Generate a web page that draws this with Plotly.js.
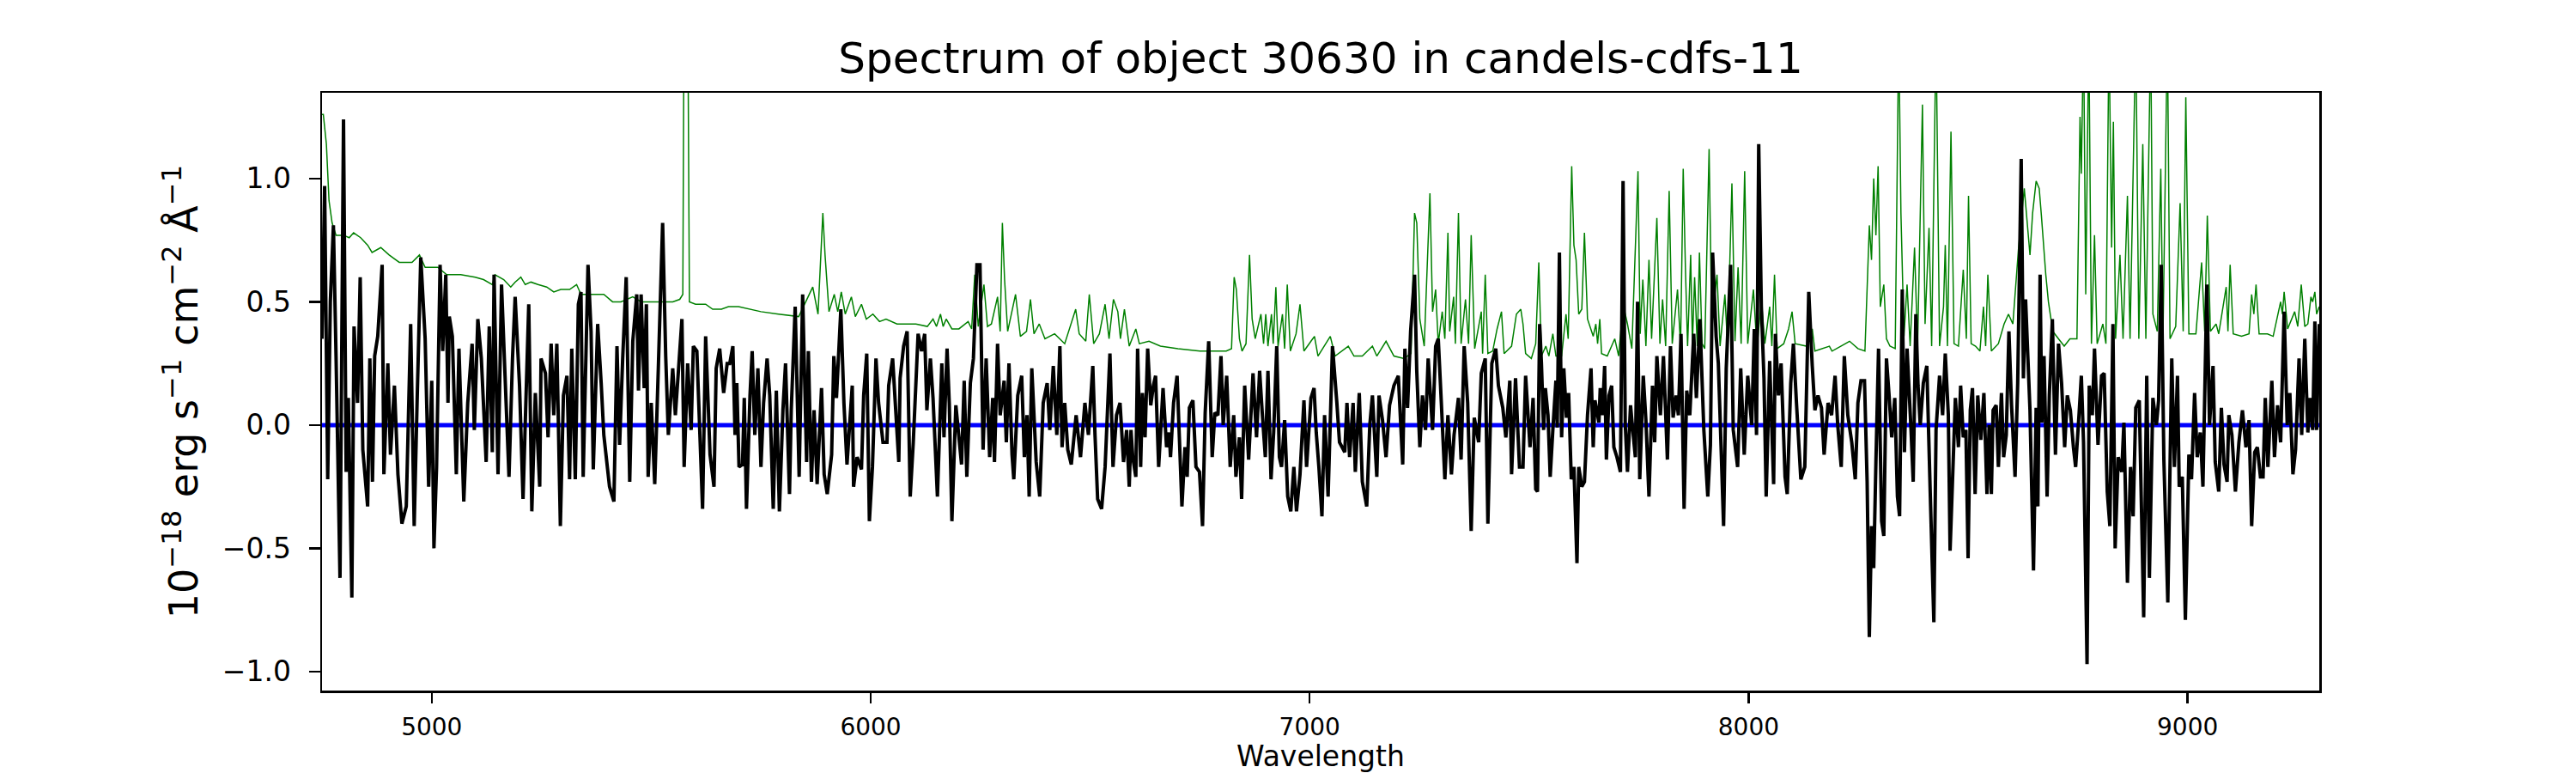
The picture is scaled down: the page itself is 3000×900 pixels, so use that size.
<!DOCTYPE html>
<html>
<head>
<meta charset="utf-8">
<script src="https://cdn.plot.ly/plotly-3.0.1.min.js"></script>
<style>
  html, body { margin: 0; padding: 0; background: #fff; }
  #chart { width: 3000px; height: 900px; }
</style>
</head>
<body>
<div id="chart"></div>
<script>
const fluxWave = [
  4750,4756,4763,4769,4776,4782,4791,4799,4805,4810,
  4818,4823,4831,4837,4843,4854,4859,4865,4870,4877,
  4887,4891,4900,4906,4915,4923,4932,4942,4952,4960,
  4967,4975,4985,4993,5000,5005,5011,5019,5025,5032,
  5037,5040,5047,5056,5062,5073,5082,5092,5097,5105,
  5113,5124,5131,5138,5142,5151,5159,5167,5176,5184,
  5190,5200,5208,5221,5228,5236,5246,5249,5259,5265,
  5272,5278,5285,5293,5300,5308,5314,5319,5327,5334,
  5340,5345,5356,5363,5368,5378,5386,5392,5405,5415,
  5422,5428,5435,5443,5451,5458,5467,5471,5477,5484,
  5489,5493,5500,5508,5516,5526,5533,5539,5549,5555,
  5562,5570,5575,5583,5591,5596,5604,5617,5624,5634,
  5643,5648,5656,5665,5673,5679,5686,5691,5695,5700,
  5708,5712,5717,5725,5730,5736,5743,5750,5756,5764,
  5770,5778,5785,5792,5800,5806,5815,5819,5828,5837,
  5845,5854,5858,5865,5871,5878,5888,5894,5901,5911,
  5916,5922,5932,5939,5946,5958,5961,5969,5979,5984,
  5991,5997,6004,6012,6018,6028,6037,6041,6050,6057,
  6064,6067,6075,6083,6090,6097,6108,6116,6123,6128,
  6136,6142,6152,6162,6167,6174,6179,6185,6194,6207,
  6213,6219,6227,6234,6242,6249,6256,6263,6271,6278,
  6282,6289,6295,6304,6309,6315,6322,6326,6335,6344,
  6350,6356,6361,6367,6377,6385,6393,6402,6408,6416,
  6424,6431,6436,6442,6449,6457,6468,6478,6488,6496,
  6506,6511,6517,6526,6534,6545,6552,6560,6568,6576,
  6583,6589,6593,6597,6604,6608,6615,6619,6625,6631,
  6638,6644,6649,6656,6666,6674,6680,6683,6690,6698,
  6709,6716,6721,6726,6734,6741,6749,6756,6762,6770,
  6778,6784,6791,6798,6803,6811,6819,6827,6832,6840,
  6845,6852,6861,6871,6879,6886,6892,6899,6905,6912,
  6918,6925,6931,6936,6943,6950,6957,6964,6970,6978,
  6987,6993,7003,7010,7015,7021,7028,7034,7042,7052,
  7062,7068,7080,7085,7091,7099,7104,7113,7120,7130,
  7137,7143,7153,7158,7166,7174,7182,7192,7202,7212,
  7217,7223,7230,7239,7244,7251,7257,7264,7270,7280,
  7287,7293,7300,7308,7315,7323,7329,7339,7345,7352,
  7360,7368,7375,7385,7391,7400,7406,7415,7424,7430,
  7440,7447,7456,7460,7469,7478,7486,7492,7502,7509,
  7515,7519,7524,7528,7533,7537,7543,7548,7554,7561,
  7564,7569,7574,7579,7585,7590,7596,7602,7609,7613,
  7620,7626,7633,7641,7646,7650,7659,7662,7667,7672,
  7676,7682,7688,7693,7700,7708,7714,7719,7724,7731,
  7735,7742,7747,7752,7760,7766,7773,7781,7786,7791,
  7799,7806,7815,7822,7828,7835,7840,7846,7853,7859,
  7866,7875,7881,7889,7898,7907,7913,7918,7926,7931,
  7936,7943,7949,7959,7965,7975,7982,7990,7998,8007,
  8013,8018,8023,8029,8035,8040,8048,8057,8061,8068,
  8074,8083,8088,8096,8102,8109,8119,8128,8137,8145,
  8151,8158,8166,8172,8181,8189,8197,8203,8211,8218,
  8226,8235,8243,8249,8256,8264,8270,8275,8280,8285,
  8290,8296,8303,8308,8314,8320,8326,8333,8339,8344,
  8350,8355,8361,8370,8375,8381,8386,8391,8398,8406,
  8414,8422,8427,8435,8442,8448,8455,8459,8466,8471,
  8478,8483,8489,8495,8500,8505,8510,8516,8522,8529,
  8536,8543,8548,8553,8557,8564,8569,8576,8581,8587,
  8593,8599,8607,8613,8621,8626,8631,8641,8649,8655,
  8659,8664,8668,8673,8680,8685,8692,8699,8706,8713,
  8720,8726,8733,8740,8745,8753,8758,8763,8771,8776,
  8783,8788,8796,8804,8810,8817,8823,8830,8835,8842,
  8850,8855,8863,8870,8876,8882,8890,8900,8907,8913,
  8921,8929,8934,8940,8946,8955,8964,8970,8977,8981,
  8988,8995,9003,9009,9016,9022,9029,9035,9044,9050,
  9058,9063,9071,9077,9083,9090,9094,9101,9109,9117,
  9125,9133,9140,9146,9153,9159,9166,9172,9177,9183,
  9192,9198,9205,9212,9220,9227,9233,9240,9246,9254,
  9260,9267,9274,9279,9285,9290,9294,9300
];
const fluxValue = [
  0.35,0.97,-0.22,0.50,0.81,0.28,-0.62,1.24,-0.19,0.11,
  -0.70,0.40,0.09,0.60,-0.10,-0.33,0.27,-0.23,0.28,0.36,
  0.65,-0.20,0.25,-0.12,0.16,-0.20,-0.40,-0.33,0.41,-0.41,
  0.12,0.68,0.35,-0.25,0.18,-0.50,-0.17,0.65,0.30,0.61,
  0.09,0.44,0.36,-0.20,0.31,-0.31,0.09,0.33,-0.02,0.43,
  0.27,-0.15,0.40,-0.11,0.61,-0.20,0.57,0.20,-0.21,0.27,
  0.52,0.16,-0.30,0.49,-0.35,0.13,-0.25,0.27,0.21,-0.05,
  0.33,0.04,0.33,-0.41,0.12,0.20,-0.22,0.31,-0.22,0.49,
  0.54,-0.21,0.65,0.38,-0.18,0.41,0.17,-0.04,-0.25,-0.31,
  0.32,-0.08,0.27,0.60,-0.23,0.34,0.53,0.14,0.53,0.15,
  0.49,-0.21,0.09,-0.24,0.22,0.82,0.28,-0.04,0.23,0.04,
  0.22,0.43,-0.17,0.25,-0.02,0.32,0.30,-0.34,0.36,-0.12,
  -0.25,0.23,0.31,0.13,0.25,0.25,0.32,-0.04,0.17,-0.17,
  -0.16,0.11,-0.34,0.12,0.30,-0.04,0.23,-0.17,0.09,0.27,
  0.12,-0.34,0.14,-0.35,0.06,0.25,-0.28,0.06,0.48,-0.21,
  0.53,-0.15,0.30,-0.23,0.06,-0.24,0.15,-0.20,-0.28,-0.12,
  0.28,0.11,0.47,0.09,-0.16,0.16,-0.25,-0.13,-0.18,0.12,
  0.29,-0.39,-0.17,0.27,0.09,-0.07,-0.07,0.16,0.27,0.06,
  -0.15,0.19,0.32,0.38,-0.29,-0.07,0.37,0.30,0.37,0.06,
  0.27,0.11,-0.29,0.25,-0.05,0.31,0.09,-0.39,0.08,-0.16,
  0.18,-0.21,0.17,0.27,0.65,0.65,-0.10,0.27,-0.13,0.11,
  -0.15,0.33,0.04,0.18,-0.07,0.25,-0.12,-0.22,0.12,0.20,
  -0.13,0.04,-0.29,0.23,-0.15,-0.29,0.09,0.17,-0.02,0.24,
  -0.04,0.32,-0.09,0.09,-0.10,-0.16,0.04,-0.13,0.09,-0.04,
  0.24,-0.04,-0.30,-0.34,-0.17,0.29,-0.17,0.04,0.09,-0.15,
  -0.02,-0.25,-0.02,-0.13,-0.21,0.31,-0.17,0.13,-0.05,0.31,
  0.08,0.16,0.20,-0.17,0.15,-0.09,-0.03,-0.13,0.09,0.20,
  -0.33,-0.09,-0.21,0.07,0.10,-0.17,-0.19,-0.41,0.05,0.34,
  -0.13,0.05,0.04,0.28,0.00,0.20,-0.17,0.04,-0.21,-0.05,
  -0.30,0.16,-0.14,0.21,-0.05,0.22,0.05,-0.13,0.22,-0.22,
  -0.03,0.32,-0.13,-0.17,0.02,-0.29,-0.35,-0.17,-0.35,-0.20,
  0.10,-0.17,0.11,0.15,-0.03,-0.17,-0.37,0.04,-0.29,0.32,
  0.09,-0.07,-0.11,0.09,-0.13,0.09,-0.19,0.13,-0.23,-0.33,
  0.00,0.12,-0.21,0.12,0.02,-0.13,0.08,0.16,0.20,-0.16,
  0.31,0.07,0.38,0.61,0.22,-0.09,0.12,-0.02,0.27,-0.02,
  0.32,0.35,0.09,-0.22,0.04,-0.20,-0.04,0.11,-0.14,0.32,
  0.09,-0.43,0.03,-0.07,0.21,0.27,-0.40,0.25,0.31,0.16,
  0.07,-0.05,0.18,-0.20,0.19,-0.17,-0.17,0.20,-0.09,0.11,
  -0.26,-0.27,0.41,0.25,-0.02,0.15,0.04,-0.21,-0.02,0.18,
  -0.01,0.70,-0.05,0.23,0.03,0.13,-0.22,-0.17,-0.56,-0.17,
  -0.25,-0.23,0.04,0.23,-0.09,0.10,0.01,0.15,0.04,0.24,
  -0.14,0.12,0.16,-0.09,-0.13,-0.19,0.99,0.00,-0.19,0.08,
  0.00,-0.13,0.50,-0.22,0.20,0.02,-0.29,0.16,-0.07,0.28,
  0.04,0.28,-0.14,0.32,0.03,0.12,0.04,0.37,-0.34,0.14,
  0.04,0.37,0.11,0.43,-0.02,-0.29,-0.08,0.70,0.36,0.25,
  -0.02,-0.41,0.23,0.65,-0.02,-0.17,0.23,-0.12,0.20,0.00,
  0.39,-0.04,1.14,0.48,0.19,-0.29,0.26,-0.24,0.37,0.12,
  0.25,-0.21,-0.28,0.17,0.33,0.09,-0.22,-0.17,0.54,0.24,
  0.06,0.12,0.07,-0.12,0.09,0.04,0.20,0.00,-0.17,0.28,
  0.04,-0.07,-0.22,0.09,0.18,0.18,-0.23,-0.86,-0.41,-0.58,
  -0.15,0.31,-0.39,-0.45,0.27,0.12,-0.05,0.11,-0.29,-0.37,
  0.55,-0.11,0.31,-0.02,-0.23,0.45,0.16,0.00,0.17,0.24,
  -0.29,-0.80,-0.02,0.20,0.04,0.29,0.04,-0.51,-0.15,0.11,
  -0.09,0.16,-0.05,-0.02,-0.54,0.06,0.15,-0.28,0.12,-0.06,
  0.13,-0.28,0.00,-0.28,0.06,0.08,-0.17,0.13,-0.13,-0.04,
  0.38,0.08,-0.21,0.17,1.08,0.19,0.51,0.06,-0.59,0.07,
  -0.33,0.61,0.01,0.28,-0.29,0.12,0.43,-0.12,0.33,0.17,
  -0.09,0.12,0.06,-0.09,-0.17,0.05,0.20,-0.07,-0.97,0.16,
  0.04,0.31,-0.08,0.20,0.21,-0.27,-0.41,0.41,-0.50,-0.13,
  -0.19,0.01,-0.64,-0.17,-0.37,0.07,0.10,-0.78,0.20,-0.62,
  0.11,0.00,0.10,0.65,-0.14,-0.72,0.27,-0.17,0.20,-0.25,
  -0.21,-0.79,-0.12,-0.22,0.13,-0.13,-0.03,-0.25,0.57,0.00,
  0.24,-0.15,-0.27,0.07,-0.16,-0.23,0.04,-0.04,-0.27,-0.07,
  0.06,-0.09,0.02,-0.41,-0.11,-0.09,-0.21,-0.21,0.11,-0.17,
  0.18,-0.13,0.08,-0.07,0.46,0.00,0.13,-0.20,-0.10,0.27,
  -0.04,0.35,-0.03,0.11,-0.02,0.42,-0.02,0.41
];

// noise / sky spectrum (green)
const noiseWave = [
  4750,4753,4760,4766,4773,4782,4799,4812,4822,4838,
  4854,4864,4884,4903,4926,4955,4972,4985,5014,5034,
  5066,5099,5118,5138,5144,5164,5180,5190,5203,5213,
  5226,5242,5262,5278,5294,5314,5330,5340,5366,5392,
  5412,5431,5458,5477,5503,5523,5549,5565,5572,5575,
  5583,5587,5601,5624,5640,5660,5676,5699,5750,5790,
  5836,5868,5880,5891,5896,5905,5917,5925,5933,5942,
  5956,5965,5979,5990,6005,6020,6035,6060,6103,6129,
  6142,6150,6159,6165,6172,6185,6201,6222,6230,6237,
  6245,6258,6266,6275,6289,6295,6300,6305,6312,6330,
  6341,6355,6364,6372,6384,6397,6419,6442,6467,6475,
  6490,6498,6508,6521,6534,6543,6553,6563,6569,6578,
  6589,6604,6612,6634,6660,6700,6750,6810,6822,6828,
  6833,6840,6846,6855,6863,6869,6876,6889,6895,6900,
  6905,6913,6917,6923,6928,6938,6943,6949,6956,6969,
  6978,6987,7003,7011,7019,7047,7058,7088,7101,7120,
  7143,7153,7174,7192,7215,7231,7239,7244,7251,7261,
  7274,7280,7287,7293,7302,7308,7315,7319,7328,7332,
  7339,7345,7355,7362,7368,7376,7391,7394,7400,7406,
  7417,7427,7437,7443,7460,7471,7481,7486,7492,7505,
  7515,7522,7528,7538,7545,7554,7561,7574,7584,7589,
  7597,7602,7607,7613,7620,7626,7633,7646,7652,7656,
  7661,7665,7678,7695,7704,7714,7724,7734,7748,7753,
  7759,7766,7773,7779,7791,7798,7804,7811,7819,7826,
  7838,7845,7851,7856,7861,7868,7872,7877,7883,7888,
  7894,7900,7910,7916,7928,7935,7946,7952,7962,7969,
  7976,7983,7991,7998,8011,8019,8029,8037,8048,8053,
  8059,8065,8080,8091,8099,8106,8132,8145,8151,8184,
  8190,8210,8230,8249,8265,8275,8280,8285,8290,8295,
  8300,8308,8314,8322,8334,8342,8347,8354,8361,8368,
  8378,8385,8396,8402,8411,8417,8427,8435,8444,8448,
  8453,8461,8468,8478,8489,8496,8501,8507,8517,8527,
  8535,8540,8545,8553,8569,8582,8592,8602,8615,8628,
  8641,8647,8655,8662,8667,8677,8683,8693,8706,8719,
  8732,8748,8755,8758,8763,8768,8775,8781,8788,8794,
  8807,8814,8821,8827,8831,8836,8846,8853,8863,8869,
  8882,8889,8898,8905,8916,8921,8931,8939,8944,8954,
  8960,8973,8983,8990,8996,9003,9019,9032,9039,9045,
  9052,9065,9071,9088,9092,9097,9104,9123,9140,9146,
  9151,9156,9163,9182,9195,9212,9216,9220,9228,9244,
  9251,9259,9267,9274,9281,9285,9290,9294,9300
];
const noiseValue = [
  1.26,1.26,1.14,0.91,0.82,0.77,0.77,0.76,0.78,0.76,
  0.73,0.70,0.72,0.69,0.66,0.66,0.69,0.64,0.64,0.61,
  0.61,0.60,0.59,0.57,0.61,0.59,0.56,0.58,0.60,0.57,
  0.58,0.57,0.56,0.54,0.55,0.55,0.57,0.53,0.53,0.53,
  0.50,0.50,0.52,0.50,0.50,0.50,0.50,0.51,0.53,1.80,
  1.80,0.50,0.49,0.49,0.47,0.47,0.48,0.48,0.46,0.45,
  0.44,0.56,0.45,0.86,0.69,0.46,0.53,0.46,0.54,0.45,
  0.52,0.44,0.49,0.43,0.45,0.42,0.43,0.41,0.41,0.40,
  0.43,0.40,0.45,0.40,0.43,0.39,0.39,0.42,0.39,0.61,
  0.40,0.57,0.40,0.41,0.52,0.38,0.82,0.59,0.38,0.53,
  0.36,0.38,0.51,0.37,0.41,0.35,0.37,0.33,0.47,0.37,
  0.34,0.53,0.33,0.37,0.49,0.35,0.51,0.46,0.35,0.47,
  0.32,0.39,0.33,0.34,0.32,0.31,0.30,0.30,0.31,0.60,
  0.55,0.35,0.30,0.33,0.69,0.43,0.35,0.45,0.33,0.45,
  0.32,0.45,0.33,0.56,0.32,0.45,0.31,0.57,0.30,0.37,
  0.49,0.30,0.34,0.36,0.28,0.36,0.28,0.32,0.28,0.28,
  0.32,0.28,0.34,0.28,0.27,0.29,0.86,0.82,0.43,0.32,
  0.94,0.46,0.55,0.33,0.46,0.35,0.78,0.38,0.52,0.33,
  0.86,0.33,0.51,0.33,0.77,0.31,0.46,0.29,0.61,0.29,
  0.30,0.39,0.46,0.29,0.32,0.45,0.47,0.41,0.29,0.27,
  0.33,0.66,0.28,0.32,0.28,0.37,0.28,0.28,0.45,0.35,
  1.05,0.73,0.67,0.45,0.47,0.78,0.43,0.36,0.41,0.33,
  0.43,0.29,0.28,0.35,0.28,0.49,0.41,0.31,1.03,0.37,
  0.59,0.32,0.67,0.35,0.84,0.33,0.51,0.32,0.95,0.33,
  0.55,0.32,1.04,0.64,0.32,0.69,0.33,0.60,0.32,0.70,
  0.33,0.31,1.12,0.41,0.61,0.32,0.53,0.32,0.98,0.34,
  0.64,0.33,1.03,0.33,0.55,0.31,0.51,0.33,0.48,0.32,
  0.61,0.31,0.33,0.39,0.46,0.33,0.32,0.39,0.30,0.32,
  0.30,0.32,0.34,0.31,0.30,0.81,0.67,1.00,0.77,1.05,
  0.48,0.57,0.35,0.32,0.31,1.60,0.86,0.36,0.57,0.32,
  0.72,0.32,1.30,0.41,0.80,0.32,1.60,0.32,0.48,0.73,
  0.32,1.19,0.33,0.32,0.63,0.35,0.93,0.33,0.32,0.30,
  0.48,0.32,0.61,0.30,0.33,0.41,0.45,0.41,0.72,0.96,
  0.69,0.86,0.99,0.96,0.85,0.61,0.50,0.38,0.35,0.32,
  0.35,0.35,1.25,1.02,1.60,0.53,1.60,0.33,0.77,0.33,
  0.41,0.33,1.60,0.72,1.23,0.35,0.69,0.35,0.93,0.35,
  1.60,0.35,1.14,0.35,1.60,0.45,0.38,1.04,0.36,1.60,
  0.35,0.40,0.90,0.38,1.33,0.37,0.37,0.66,0.38,0.85,
  0.38,0.41,0.37,0.56,0.38,0.65,0.37,0.36,0.37,0.53,
  0.45,0.57,0.37,0.37,0.36,0.50,0.45,0.54,0.39,0.46,
  0.40,0.57,0.40,0.41,0.52,0.50,0.54,0.45,0.48
];

// model / contamination (blue), flat at zero
const modelWave = [4750, 9300];
const modelValue = [0, 0];

const xTicks = [5000, 6000, 7000, 8000, 9000];
const yTicks = [-1.0, -0.5, 0.0, 0.5, 1.0];

const font = "DejaVu Sans";

Plotly.newPlot("chart", [
  {
    x: modelWave, y: modelValue, type: "scatter", mode: "lines",
    line: { color: "#0000ff", width: 5 }, hoverinfo: "skip"
  },
  {
    x: noiseWave, y: noiseValue, type: "scatter", mode: "lines",
    line: { color: "#008000", width: 1.5, simplify: false }
  },
  {
    x: fluxWave, y: fluxValue, type: "scatter", mode: "lines",
    line: { color: "#000000", width: 4, simplify: false }
  }
], {
  width: 3000,
  height: 900,
  showlegend: false,
  paper_bgcolor: "#ffffff",
  plot_bgcolor: "#ffffff",
  margin: { l: 375, r: 299, t: 108, b: 96 },
  font: { family: font, color: "#000000" },
  title: {
    text: "Spectrum of object 30630 in candels-cdfs-11",
    font: { family: font, size: 50, color: "#000000" },
    x: 0.5, xref: "paper", xanchor: "center",
    y: 0.925, yref: "container", yanchor: "middle"
  },
  xaxis: {
    range: [4750, 9300],
    tickvals: xTicks,
    ticktext: xTicks.map(String),
    ticks: "outside", ticklen: 12, tickwidth: 2.5, tickcolor: "#000",
    tickfont: { family: font, size: 28, color: "#000" },
    ticklabelstandoff: 4,
    showline: true, mirror: true, linecolor: "#000", linewidth: 2.5,
    showgrid: false, zeroline: false,
    title: { text: "Wavelength", font: { family: font, size: 33, color: "#000" }, standoff: 4 }
  },
  yaxis: {
    range: [-1.077, 1.348],
    tickvals: yTicks,
    tickformat: ".1f",
    ticks: "outside", ticklen: 13, tickwidth: 2.5, tickcolor: "#000",
    tickfont: { family: font, size: 33, color: "#000" },
    ticklabelstandoff: 14,
    showline: true, mirror: true, linecolor: "#000", linewidth: 2.5,
    showgrid: false, zeroline: false,
    title: {
      text: "10<sup>\u221218</sup> erg s<sup>\u22121</sup> cm<sup>\u22122</sup> \u00c5<sup>\u22121</sup>",
      font: { family: font, size: 46, color: "#000" },
      standoff: 14
    }
  }
}, { displayModeBar: false, staticPlot: true });
</script>
</body>
</html>
